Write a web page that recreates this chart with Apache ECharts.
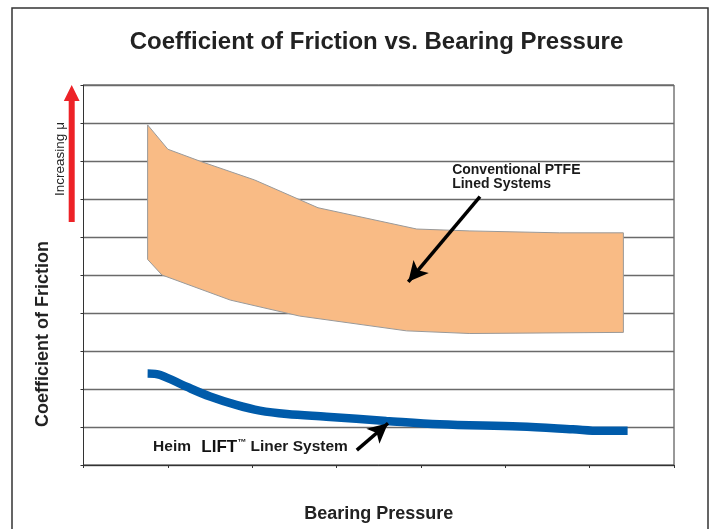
<!DOCTYPE html>
<html>
<head>
<meta charset="utf-8">
<script src="https://cdn.jsdelivr.net/npm/echarts@6/dist/echarts.min.js"></script>
<style>html,body{margin:0;padding:0;background:#fff}#c{width:710px;height:529px}</style>
</head>
<body>
<div id="c"></div>
<script>
// Conventional PTFE band (upper and lower edges)
const bandUpperX = [0.76, 1.00, 1.40, 2.03, 2.78, 3.95, 4.58, 5.64, 6.40];
const bandUpperY = [8.95, 8.31, 7.98, 7.50, 6.77, 6.21, 6.16, 6.11, 6.11];
const bandLowerX = [0.76, 0.93, 1.74, 2.56, 3.83, 4.58, 6.40];
const bandLowerY = [5.41, 5.00, 4.34, 3.92, 3.53, 3.46, 3.49];
// Heim LIFT liner line
const liftX = [0.76, 0.91, 1.22, 1.50, 1.81, 2.09, 2.41, 2.88, 3.59, 4.22, 5.17, 5.80, 6.12, 6.45];
const liftY = [2.41, 2.37, 2.06, 1.80, 1.58, 1.43, 1.34, 1.27, 1.16, 1.07, 1.01, 0.94, 0.90, 0.90];
// annotation arrows [fromX, fromY, toX, toY]
const ptfeArrow = [4.70, 7.06, 3.85, 4.82];
const liftArrow = [3.24, 0.39, 3.61, 1.10];
// annotation label anchors (left edge, vertical centre)
const ptfeLabelPos = [4.37, 7.57];
const liftLabelPos = [0.825, 0.47];

const chart = echarts.init(document.getElementById('c'), null, {renderer: 'canvas'});
const FONT = 'Liberation Sans';

const bandPoly = [];
bandUpperX.forEach((x, i) => bandPoly.push([x, bandUpperY[i]]));
for (let i = bandLowerX.length - 1; i >= 0; i--) bandPoly.push([bandLowerX[i], bandLowerY[i]]);

const staticGraphic = [
  {type: 'rect', shape: {x: 12, y: 8, width: 696, height: 560}, style: {fill: 'none', stroke: '#333', lineWidth: 1.5}, silent: true},
  {type: 'text', x: 376.5, y: 42, style: {text: 'Coefficient of Friction vs. Bearing Pressure', fontFamily: FONT, fontWeight: 'bold', fontSize: 24, fill: '#222', textAlign: 'center', textVerticalAlign: 'middle'}},
  {type: 'text', x: 43, y: 334, rotation: Math.PI / 2, style: {text: 'Coefficient of Friction', fontFamily: FONT, fontWeight: 'bold', fontSize: 18, fill: '#222', textAlign: 'center', textVerticalAlign: 'middle'}},
  {type: 'text', x: 60, y: 159, rotation: Math.PI / 2, style: {text: 'Increasing μ', fontFamily: FONT, fontSize: 13.5, fill: '#222', textAlign: 'center', textVerticalAlign: 'middle'}},
  {type: 'polygon', shape: {points: [[71.7, 85], [63.8, 101], [68.7, 101], [68.7, 222], [74.7, 222], [74.7, 101], [79.6, 101]]}, style: {fill: '#ED2227'}}
];

const option = {
  animation: false,
  grid: {left: 83.5, right: 36, top: 85, bottom: 64, show: true, borderColor: '#333', borderWidth: 1},
  xAxis: {
    type: 'value', min: 0, max: 7, interval: 1,
    axisLine: {show: true, lineStyle: {color: '#333', width: 1}},
    axisTick: {show: true, length: 3, lineStyle: {color: '#333'}},
    axisLabel: {show: false},
    splitLine: {show: false},
    name: 'Bearing Pressure', nameLocation: 'middle', nameGap: 40,
    nameTextStyle: {fontFamily: FONT, fontWeight: 'bold', fontSize: 18, color: '#222'}
  },
  yAxis: {
    type: 'value', min: 0, max: 10, interval: 1,
    axisLine: {show: true, lineStyle: {color: '#333', width: 1}},
    axisTick: {show: true, length: 3, lineStyle: {color: '#333'}},
    axisLabel: {show: false},
    splitLine: {show: true, lineStyle: {color: '#6a6a6a', width: 1.4}}
  },
  graphic: staticGraphic,
  series: [
    {
      type: 'custom', name: 'Conventional PTFE', silent: true,
      data: [0],
      renderItem: function (params, api) {
        const pts = bandPoly.map(p => api.coord(p));
        return {type: 'polygon', shape: {points: pts}, style: {fill: '#F9BB85', stroke: '#999', lineWidth: 1}};
      },
      z: 3
    },
    {
      type: 'line', name: 'Heim LIFT', silent: true,
      data: liftX.map((x, i) => [x, liftY[i]]),
      smooth: 0.35, showSymbol: false, symbol: 'none',
      lineStyle: {color: '#005BAA', width: 8.5, cap: 'butt'},
      z: 4,
      markLine: {
        silent: true, symbol: ['none', 'arrow'], symbolSize: [15, 20],
        label: {show: false},
        lineStyle: {color: '#000', width: 3.5, type: 'solid'},
        data: [
          [{coord: [ptfeArrow[0], ptfeArrow[1]]}, {coord: [ptfeArrow[2], ptfeArrow[3]]}],
          [{coord: [liftArrow[0], liftArrow[1]]}, {coord: [liftArrow[2], liftArrow[3]]}]
        ]
      }
    }
  ]
};
chart.setOption(option);

// place annotation texts at data positions through the chart's scales
const p1 = chart.convertToPixel({gridIndex: 0}, ptfeLabelPos);
const p2 = chart.convertToPixel({gridIndex: 0}, liftLabelPos);
chart.setOption({
  graphic: staticGraphic.concat([
    {type: 'text', x: p1[0], y: p1[1], z: 10, style: {text: 'Conventional PTFE\nLined Systems', fontFamily: FONT, fontWeight: 'bold', fontSize: 14, lineHeight: 14, fill: '#1a1a1a', textAlign: 'left', textVerticalAlign: 'middle'}},
    {type: 'text', x: p2[0], y: p2[1], z: 10, style: {
      text: '{a|Heim }{s| }{b|LIFT}{c|™}{a| Liner System}', textAlign: 'left', textVerticalAlign: 'middle',
      rich: {
        a: {fontFamily: FONT, fontWeight: 'bold', fontSize: 15.5, fill: '#1a1a1a'},
        s: {fontFamily: FONT, fontSize: 15.5, width: 6},
        b: {fontFamily: FONT, fontWeight: 900, fontSize: 17, fill: '#111'},
        c: {fontFamily: FONT, fontWeight: 'bold', fontSize: 9, fill: '#111', verticalAlign: 'top', padding: [0, 0, 9, 0]}
      }}}
  ])
}, {replaceMerge: ['graphic']});
</script>
</body>
</html>
